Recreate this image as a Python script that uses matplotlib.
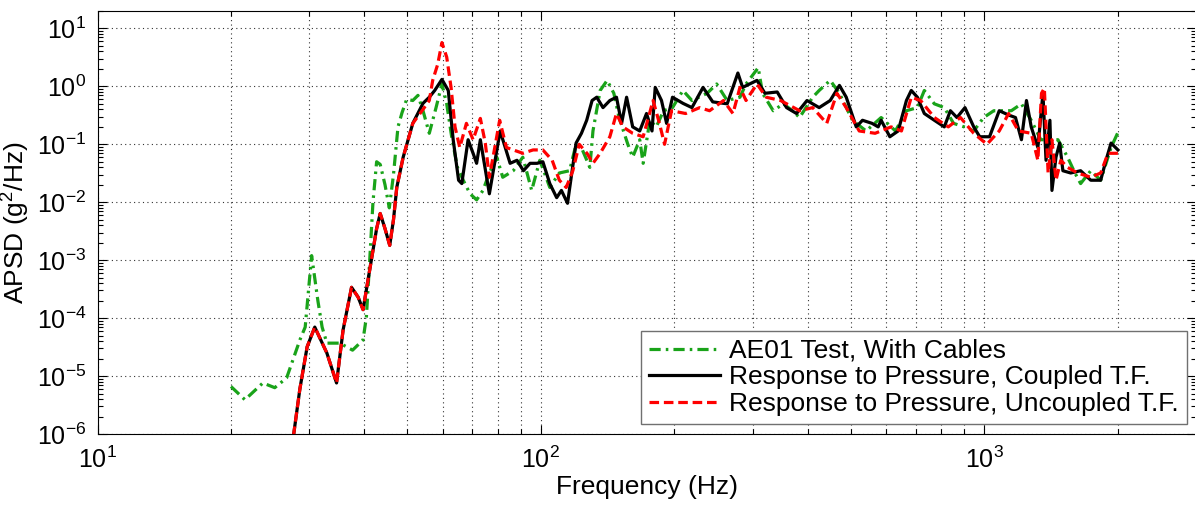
import numpy as np
import matplotlib
matplotlib.use('Agg')
import matplotlib.pyplot as plt
from matplotlib.ticker import LogLocator, NullFormatter, FuncFormatter

plt.rcParams['font.family'] = ['Liberation Sans', 'DejaVu Sans']
plt.rcParams['mathtext.fontset'] = 'custom'
plt.rcParams['mathtext.rm'] = 'Liberation Sans'
plt.rcParams['mathtext.it'] = 'Liberation Sans:italic'

# shared low-frequency part (coupled and uncoupled overlap here)
low_f = [27.0, 27.7, 28.6, 29.7, 30.9, 32.9, 34.6, 35.8, 37.4, 38.7, 39.7, 41.1,
         42.6, 43.4, 44.5, 45.6, 46.5]
low_v = [3e-7, 1e-6, 6e-6, 3.2e-5, 7e-5, 2.5e-5, 7.6e-6, 6.3e-5, 3.4e-4, 2.3e-4,
         1.4e-4, 6.8e-4, 3.5e-3, 6.4e-3, 3.5e-3, 1.8e-3, 5e-3]

green_f = [20, 21.5, 23.6, 25.1, 26.7, 28.6, 29.4, 30.4, 31.4, 32.1, 32.9, 35.2, 37.6,
           39.7, 40.4, 41.1, 41.8, 42.6, 43.4, 44.5, 45.5, 46.5, 47.6, 48.6, 49.8, 51.4,
           52.8, 54.2, 56.0, 58.0, 59.8, 61.3, 62.9, 64.8, 66.8, 69.2, 71.6, 74.0, 76.5,
           79.5, 82.0, 86.6, 91.0, 95.3, 99.4, 104.7, 110, 116, 120, 124, 128.9, 131,
           136, 141, 146, 150, 157, 161, 167, 170, 176, 182, 189, 198, 209, 219, 237,
           249, 263, 281, 290, 309, 316, 334, 352, 369, 383, 410, 424, 449, 471, 504,
           541, 585, 630, 667, 706, 732, 771, 812, 852, 900, 946, 996, 1050, 1150, 1212,
           1275, 1340, 1410, 1465, 1540, 1600, 1648, 1737, 1829, 1930, 2000]
green_v = [6.6e-6, 3.9e-6, 7.6e-6, 6.3e-6, 9.3e-6, 4.2e-5, 7e-5, 1.2e-3, 2e-4, 7e-5,
           3.7e-5, 3.7e-5, 2.8e-5, 4.2e-5, 1.05e-4, 1e-3, 1e-2, 0.05, 0.045, 0.02, 0.008,
           0.03, 0.2, 0.35, 0.6, 0.57, 0.7, 0.38, 0.155, 0.43, 1.1, 0.5, 0.135, 0.04,
           0.024, 0.014, 0.011, 0.016, 0.032, 0.06, 0.027, 0.035, 0.06, 0.016, 0.053,
           0.018, 0.032, 0.035, 0.1, 0.08, 0.04, 0.17, 0.85, 1.27, 0.76, 0.29, 0.1, 0.06,
           0.12, 0.047, 0.26, 0.2, 0.38, 0.43, 0.85, 0.57, 0.76, 1.1, 0.57, 0.65, 1.1,
           2.1, 0.76, 0.38, 0.5, 0.38, 0.29, 0.65, 0.85, 1.27, 0.76, 0.26, 0.17, 0.29,
           0.17, 0.38, 0.43, 0.85, 0.5, 0.43, 0.23, 0.2, 0.17, 0.29, 0.38, 0.38, 0.5,
           0.26, 0.12, 0.12, 0.12, 0.06, 0.032, 0.021, 0.035, 0.024, 0.088, 0.16]

black_f = [47.3, 48.9, 51.4, 54.2, 56.0, 57.6, 59.8, 61.8, 63.4, 65.2, 66.3, 68.5, 70.3,
           71.6, 73.0, 76.5, 80.9, 85.2, 88.3, 91.3, 94.5, 98.0, 101, 104.7, 108.5, 111.2,
           114.8, 117, 120, 123.4, 126.8, 130.4, 133.6, 138, 143, 148, 152, 156, 161, 167,
           173, 178, 181, 187, 192, 198, 209, 219, 232, 244, 263, 278, 285, 307, 320, 341,
           358, 377, 398, 424, 449, 471, 488, 514, 531, 558, 576, 585, 612, 639, 667, 684,
           706, 732, 771, 812, 838, 867, 904, 946, 976, 1027, 1080, 1134, 1175, 1212, 1244,
           1275, 1320, 1355, 1377, 1405, 1420, 1450, 1478, 1503, 1565, 1648, 1737, 1829,
           1880, 1930, 2000]
black_v = [0.018, 0.06, 0.23, 0.51, 0.65, 0.85, 1.32, 0.85, 0.12, 0.024, 0.021, 0.12,
           0.07, 0.047, 0.12, 0.014, 0.17, 0.047, 0.053, 0.035, 0.047, 0.047, 0.05, 0.021,
           0.012, 0.016, 0.0096, 0.027, 0.105, 0.155, 0.26, 0.57, 0.65, 0.43, 0.57, 0.65,
           0.23, 0.65, 0.2, 0.17, 0.34, 0.17, 0.96, 0.57, 0.23, 0.65, 0.51, 0.43, 0.96,
           0.54, 0.5, 1.7, 0.96, 1.27, 0.76, 0.8, 0.43, 0.34, 0.57, 0.43, 0.57, 1.04, 0.65,
           0.2, 0.26, 0.23, 0.2, 0.26, 0.135, 0.17, 0.57, 0.85, 0.65, 0.34, 0.26, 0.2, 0.38,
           0.29, 0.43, 0.2, 0.135, 0.135, 0.38, 0.32, 0.29, 0.12, 0.57, 0.2, 0.088, 0.76,
           0.053, 0.26, 0.016, 0.06, 0.105, 0.035, 0.032, 0.035, 0.024, 0.024, 0.053,
           0.105, 0.08]

red_f = [47.3, 48.9, 51.4, 54.2, 56.0, 57.0, 58.5, 59.8, 61.3, 62.7, 64.0, 65.6, 67.9,
         70.3, 73.0, 74.9, 76.5, 78.5, 80.7, 83.6, 86.6, 91.0, 96.0, 101, 106, 110, 114,
         118, 122, 127, 131, 136, 143, 148, 153, 161, 170, 179, 185, 190, 197, 212, 228,
         240, 258, 271, 281, 290, 307, 322, 347, 383, 410, 441, 465, 488, 522, 567, 616,
         650, 684, 718, 771, 829, 883, 946, 1013, 1080, 1134, 1193, 1275, 1320, 1345, 1365,
         1392, 1420, 1450, 1487, 1540, 1622, 1737, 1829, 1900, 2000]
red_v = [0.018, 0.06, 0.23, 0.4, 0.57, 1.27, 2.4, 5.7, 3.2, 0.96, 0.2, 0.088, 0.23, 0.12,
         0.28, 0.105, 0.027, 0.08, 0.26, 0.088, 0.08, 0.07, 0.08, 0.08, 0.053, 0.024, 0.018,
         0.035, 0.1, 0.07, 0.047, 0.07, 0.135, 0.34, 0.2, 0.155, 0.135, 0.57, 0.23, 0.1,
         0.38, 0.34, 0.43, 0.38, 0.57, 0.34, 0.96, 0.57, 1.1, 0.65, 0.57, 0.38, 0.43, 0.23,
         0.76, 0.43, 0.17, 0.155, 0.2, 0.17, 0.65, 0.57, 0.29, 0.2, 0.29, 0.155, 0.1, 0.17,
         0.34, 0.17, 0.155, 0.053, 0.76, 0.93, 0.032, 0.12, 0.024, 0.053, 0.04, 0.032,
         0.027, 0.032, 0.07, 0.07]

labels = ['AE01 Test, With Cables',
          'Response to Pressure, Coupled T.F.',
          'Response to Pressure, Uncoupled T.F.']

fig = plt.figure(figsize=(11.95, 5.08), dpi=100)
ax = fig.add_axes([97.5 / 1195, 74 / 508, 1098.5 / 1195, 423 / 508])

ax.loglog(green_f, green_v, color='#19a319', lw=2.3, dashes=(3.5, 1.6, 0.8, 1.6), label=labels[0])
ax.loglog(low_f + black_f, low_v + black_v, color='black', lw=2.3, label=labels[1])
ax.loglog(low_f + red_f, low_v + red_v, color='#ff0000', lw=2.3, dashes=(3, 1.5), label=labels[2])

ax.set_xlim(10, 3000)
ax.set_ylim(1e-6, 20)

ax.xaxis.set_major_locator(LogLocator(base=10, numticks=10))
ax.xaxis.set_minor_locator(LogLocator(base=10, subs=np.arange(2, 10), numticks=20))
ax.yaxis.set_major_locator(LogLocator(base=10, numticks=20))
ax.yaxis.set_minor_locator(LogLocator(base=10, subs=np.arange(2, 10), numticks=40))
ax.xaxis.set_minor_formatter(NullFormatter())
ax.yaxis.set_minor_formatter(NullFormatter())
fmt = FuncFormatter(lambda v, p: r'$\mathdefault{10^{%d}}$' % round(np.log10(v)))
ax.xaxis.set_major_formatter(fmt)
ax.yaxis.set_major_formatter(fmt)

ax.tick_params(which='both', direction='in', top=True, right=True, labelsize=18)
ax.tick_params(which='major', length=6.5, width=0.8)
ax.tick_params(which='minor', length=3.6, width=0.8)
ax.tick_params(axis='x', pad=9)
ax.tick_params(axis='y', pad=8)

grid_style = dict(color='#333333', linestyle=(0, (1, 3)), linewidth=0.8)
ax.grid(True, which='major', axis='both', **grid_style)
ax.grid(True, which='minor', axis='x', **grid_style)

ax.set_xlabel('Frequency (Hz)', fontsize=19)
ax.set_ylabel('APSD (g$^2$/Hz)', fontsize=19)
ax.xaxis.set_label_coords(0.5, -0.097)
ax.yaxis.set_label_coords(-0.06, 0.5)

leg = ax.legend(loc='lower right', bbox_to_anchor=(1187 / 1195, 84 / 508),
                bbox_transform=fig.transFigure, borderaxespad=0, fontsize=19,
                fancybox=False, framealpha=1, edgecolor='#707070',
                handlelength=2.7, handletextpad=0.35, labelspacing=0.1,
                borderpad=0.3)
leg.get_frame().set_linewidth(1.0)

fig.savefig('out.png', dpi=100)
